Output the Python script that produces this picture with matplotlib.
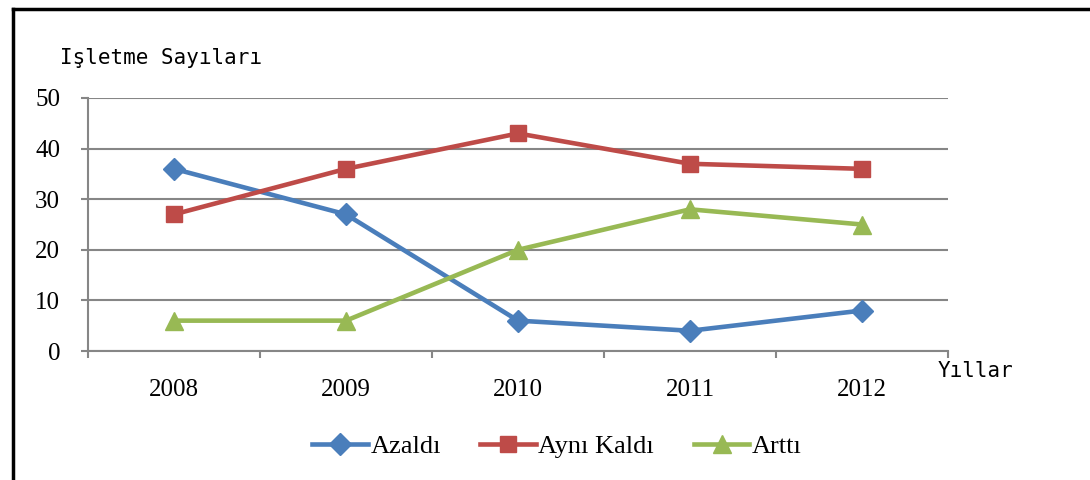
import matplotlib.pyplot as plt
from matplotlib.lines import Line2D

years = ['2008', '2009', '2010', '2011', '2012']
azaldi = [36, 27, 6, 4, 8]
ayni_kaldi = [27, 36, 43, 37, 36]
artti = [6, 6, 20, 28, 25]

series = [
    ('Azaldı', azaldi, '#4A7EBB', 'D', 11),
    ('Aynı Kaldı', ayni_kaldi, '#BE4B48', 's', 12),
    ('Arttı', artti, '#98B954', '^', 13),
]

plt.rcParams['font.family'] = 'Liberation Serif'

fig = plt.figure(figsize=(10.9, 4.8), dpi=100)
ax = fig.add_axes([88 / 1090, 1 - 351 / 480, 860 / 1090, 253 / 480])

x = list(range(len(years)))
for name, vals, color, marker, ms in series:
    ax.plot(x, vals, color=color, lw=3.3, marker=marker, markersize=ms,
            label=name, zorder=3)

ax.set_xlim(-0.5, len(years) - 0.5)
ax.set_ylim(0, 50)
ax.set_yticks(range(0, 51, 10))
ax.set_xticks(x)
ax.set_xticklabels(years)
ax.set_xticks([i - 0.5 for i in range(len(years) + 1)], minor=True)

ax.tick_params(axis='x', which='major', length=0, pad=20, labelsize=18)
ax.tick_params(axis='x', which='minor', length=5, width=1.5, color='#868686')
ax.tick_params(axis='y', length=5, width=1.5, color='#868686', pad=15, labelsize=18)

ax.grid(axis='y', color='#868686', lw=1.5, zorder=0)
for side in ['top', 'right']:
    ax.spines[side].set_visible(False)
for side in ['left', 'bottom']:
    ax.spines[side].set_color('#868686')
    ax.spines[side].set_linewidth(1.5)

fig.text(60 / 1090, 1 - 58 / 480, 'Işletme Sayıları', family='DejaVu Sans Mono',
         fontsize=15, va='center', ha='left')
fig.text(938 / 1090, 1 - 371 / 480, 'Yıllar', family='DejaVu Sans Mono',
         fontsize=15, va='center', ha='left')

fig.legend(loc='center', bbox_to_anchor=(557 / 1090, 1 - 446 / 480), ncol=3,
           frameon=False, fontsize=19, handlelength=2.1, columnspacing=1.5,
           handletextpad=0.1)

fig.add_artist(Line2D([13 / 1090, 13 / 1090], [0, 1 - 9 / 480], color='black', lw=2.5))
fig.add_artist(Line2D([13 / 1090, 1], [1 - 9 / 480, 1 - 9 / 480], color='black', lw=2.5))

fig.savefig('out.png', dpi=100)
